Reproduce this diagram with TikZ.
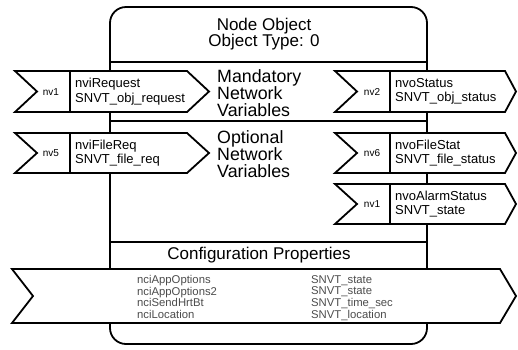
\documentclass[tikz,border=0pt]{standalone}
\usepackage{fontspec}
\setmainfont{Liberation Sans}
\begin{document}
\begin{tikzpicture}[x=1pt,y=-1pt,
  outline/.style={draw=black,line width=1.8pt,line join=miter},
  tagshape/.style={outline,fill=white},
  bigtext/.style={font=\fontsize{17}{16.5}\selectfont,inner sep=0pt},
  sectext/.style={font=\fontsize{17.8}{17.3}\selectfont,inner sep=0pt,align=left,anchor=north west},
  vartext/.style={font=\fontsize{13}{14.5}\selectfont,inner sep=0pt,align=left,anchor=west},
  nvlabel/.style={font=\fontsize{10}{10}\selectfont,inner sep=0pt},
  cplist/.style={font=\fontsize{11.3}{11.7}\selectfont,inner sep=0pt,align=left,anchor=north west,text=black!70}
]
\useasboundingbox (0,0) rectangle (518,349);
% main node object box
\draw[outline,rounded corners=16pt] (110,7) rectangle (427,344);
\coordinate (dl1) at (110,62);  \coordinate (dr1) at (427,62);
\coordinate (dl2) at (110,121); \coordinate (dr2) at (427,121);
\coordinate (dl3) at (110,242); \coordinate (dr3) at (427,242);
\draw[outline] (dl1) -- (dr1);
\draw[outline] (dl2) -- (dr2);
\draw[outline] (dl3) -- (dr3);
% section texts
\node[bigtext,align=center,anchor=north] (title) at (264,17.5) {Node Object\\Object Type: 0};
\node[sectext] (mand) at (217,69) {Mandatory\\Network\\Variables};
\node[sectext] (opt) at (217,130) {Optional\\Network\\Variables};
\node[bigtext,anchor=north] (cfg) at (259,247) {Configuration Properties};
% input nv1
\coordinate (a1) at (15,71);
\draw[tagshape] (a1) -- (187,71) -- (209,91.5) -- (187,112) -- (15,112) -- (37,91.5) -- cycle;
\coordinate (a1d) at (70,71); \coordinate (a1e) at (70,112);
\draw[outline] (a1d) -- (a1e);
\node[nvlabel] (a1n) at (51,92) {nv1};
\node[vartext] (a1t) at (75,91.5) {nviRequest\\SNVT\_obj\_request};
% input nv5
\coordinate (a5) at (15,133);
\draw[tagshape] (a5) -- (187,133) -- (209,153) -- (187,173) -- (15,173) -- (37,153) -- cycle;
\coordinate (a5d) at (70,133); \coordinate (a5e) at (70,173);
\draw[outline] (a5d) -- (a5e);
\node[nvlabel] (a5n) at (51,153.5) {nv5};
\node[vartext] (a5t) at (75,153) {nviFileReq\\SNVT\_file\_req};
% output nv2
\coordinate (b2) at (335,71);
\draw[tagshape] (b2) -- (505,71) -- (516,91.5) -- (505,112) -- (335,112) -- (357,91.5) -- cycle;
\coordinate (b2d) at (390,71); \coordinate (b2e) at (390,112);
\draw[outline] (b2d) -- (b2e);
\node[nvlabel] (b2n) at (372,92) {nv2};
\node[vartext] (b2t) at (395,91.5) {nvoStatus\\SNVT\_obj\_status};
% output nv6
\coordinate (b6) at (335,133);
\draw[tagshape] (b6) -- (505,133) -- (516,153) -- (505,173) -- (335,173) -- (357,153) -- cycle;
\coordinate (b6d) at (390,133); \coordinate (b6e) at (390,173);
\draw[outline] (b6d) -- (b6e);
\node[nvlabel] (b6n) at (372,153.5) {nv6};
\node[vartext] (b6t) at (395,153) {nvoFileStat\\SNVT\_file\_status};
% output alarm nv1
\coordinate (b1) at (335,184);
\draw[tagshape] (b1) -- (505,184) -- (516,204) -- (505,224) -- (335,224) -- (357,204) -- cycle;
\coordinate (b1d) at (390,184); \coordinate (b1e) at (390,224);
\draw[outline] (b1d) -- (b1e);
\node[nvlabel] (b1n) at (372,204.5) {nv1};
\node[vartext] (b1t) at (395,204) {nvoAlarmStatus\\SNVT\_state};
% configuration band
\coordinate (cb) at (12,269);
\draw[tagshape] (cb) -- (500,269) -- (516,296) -- (500,323) -- (12,323) -- (33,296) -- cycle;
\node[cplist] (cpn) at (137,275) {nciAppOptions\\nciAppOptions2\\nciSendHrtBt\\nciLocation};
\node[cplist] (cpt) at (311,275) {SNVT\_state\\SNVT\_state\\SNVT\_time\_sec\\SNVT\_location};
\end{tikzpicture}
\end{document}
